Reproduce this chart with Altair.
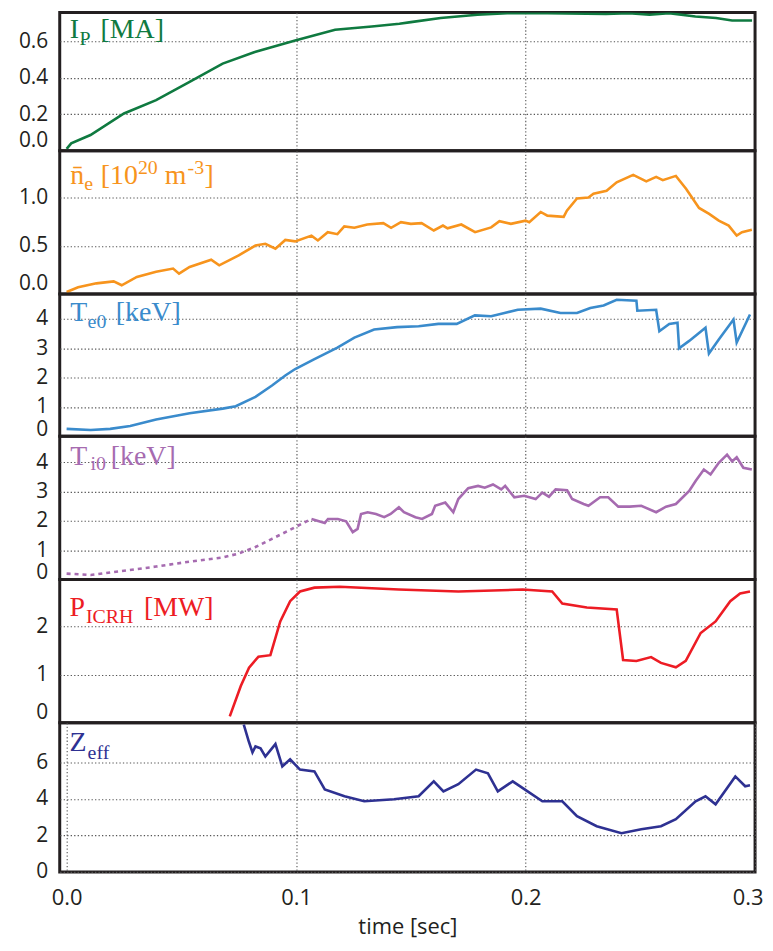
import altair as alt
import pandas as pd

# ---------------- data (time [s], value) ----------------
IP = [(0.0, 0.01), (0.002, 0.04), (0.0104, 0.086), (0.025, 0.204), (0.039, 0.277),
      (0.0536, 0.377), (0.068, 0.477), (0.082, 0.54), (0.0996, 0.604), (0.117, 0.662),
      (0.133, 0.68), (0.145, 0.695), (0.150, 0.704), (0.163, 0.727), (0.179, 0.744),
      (0.192, 0.753), (0.2095, 0.753), (0.235, 0.749), (0.245, 0.753), (0.254, 0.744),
      (0.2625, 0.753), (0.274, 0.735), (0.283, 0.727), (0.290, 0.713), (0.2987, 0.713)]

NE = [(0.0, 0.02), (0.005, 0.07), (0.013, 0.11), (0.0205, 0.13), (0.024, 0.09),
      (0.0306, 0.177), (0.039, 0.23), (0.0464, 0.263), (0.049, 0.21), (0.0536, 0.28),
      (0.063, 0.355), (0.0665, 0.297), (0.075, 0.40), (0.0823, 0.503), (0.0866, 0.52),
      (0.091, 0.47), (0.0953, 0.56), (0.0996, 0.545), (0.1067, 0.605), (0.1095, 0.555),
      (0.1138, 0.64), (0.118, 0.62), (0.121, 0.70), (0.1254, 0.686), (0.131, 0.72),
      (0.138, 0.734), (0.1414, 0.686), (0.1457, 0.744), (0.150, 0.727), (0.1547, 0.734),
      (0.160, 0.658), (0.164, 0.709), (0.166, 0.68), (0.172, 0.72), (0.178, 0.64),
      (0.185, 0.69), (0.1886, 0.755), (0.1936, 0.727), (0.200, 0.76), (0.2016, 0.744),
      (0.2066, 0.85), (0.2095, 0.812), (0.2166, 0.80), (0.218, 0.864), (0.2224, 0.99),
      (0.2274, 1.00), (0.2296, 1.04), (0.2353, 1.07), (0.2397, 1.157), (0.2469, 1.235),
      (0.2526, 1.167), (0.2569, 1.214), (0.2598, 1.18), (0.2655, 1.224), (0.270, 1.088),
      (0.2756, 0.892), (0.280, 0.83), (0.2842, 0.76), (0.2885, 0.709), (0.292, 0.606),
      (0.2943, 0.64), (0.2986, 0.665)]

TE = [(0.0, 0.25), (0.0105, 0.21), (0.019, 0.25), (0.0277, 0.35), (0.039, 0.57),
      (0.0536, 0.78), (0.068, 0.94), (0.0737, 1.02), (0.0823, 1.34), (0.0895, 1.73),
      (0.0953, 2.07), (0.0996, 2.29), (0.108, 2.63), (0.118, 3.02), (0.1254, 3.36),
      (0.134, 3.64), (0.144, 3.72), (0.1534, 3.75), (0.162, 3.83), (0.17, 3.83),
      (0.1779, 4.12), (0.185, 4.09), (0.1908, 4.2), (0.1966, 4.31), (0.2066, 4.35),
      (0.2152, 4.2), (0.2224, 4.2), (0.2282, 4.37), (0.234, 4.46), (0.2397, 4.65),
      (0.2483, 4.62), (0.2487, 4.28), (0.2569, 4.31), (0.2583, 3.58), (0.2626, 3.83),
      (0.2662, 3.87), (0.2669, 3.0), (0.2713, 3.25), (0.2784, 3.7), (0.2799, 2.82),
      (0.2842, 3.30), (0.2906, 3.98), (0.292, 3.19), (0.2978, 4.15)]

TI_EST = [(0.0, 0.2), (0.0105, 0.15), (0.025, 0.3), (0.039, 0.44), (0.0536, 0.61),
          (0.068, 0.75), (0.0751, 0.89), (0.0823, 1.11), (0.0895, 1.39), (0.0967, 1.67),
          (0.1024, 1.9), (0.1067, 2.07)]

TI = [(0.1067, 2.07), (0.1125, 1.93), (0.1139, 2.07), (0.1182, 2.07), (0.1218, 1.99),
      (0.1247, 1.62), (0.1268, 1.73), (0.1283, 2.24), (0.1312, 2.30), (0.1348, 2.24),
      (0.1384, 2.13), (0.1412, 2.24), (0.1448, 2.47), (0.147, 2.30), (0.152, 2.13),
      (0.1549, 2.07), (0.1592, 2.24), (0.1606, 2.52), (0.165, 2.63), (0.1685, 2.30),
      (0.1707, 2.75), (0.175, 3.12), (0.1793, 3.2), (0.1822, 3.14), (0.1858, 3.25),
      (0.1894, 3.08), (0.1911, 3.2), (0.1951, 2.81), (0.1994, 2.86), (0.2044, 2.75),
      (0.2073, 2.97), (0.2102, 2.83), (0.2131, 3.08), (0.2181, 3.05), (0.2203, 2.75),
      (0.2253, 2.58), (0.2274, 2.52), (0.2325, 2.81), (0.236, 2.81), (0.2404, 2.49),
      (0.2454, 2.49), (0.2504, 2.52), (0.2569, 2.30), (0.2612, 2.49), (0.2655, 2.58),
      (0.2713, 3.03), (0.2741, 3.37), (0.2777, 3.76), (0.2806, 3.59), (0.2842, 3.99),
      (0.2878, 4.27), (0.29, 4.04), (0.292, 4.18), (0.2949, 3.82), (0.2986, 3.76)]

PICRH = [(0.0711, 0.13), (0.0759, 0.76), (0.0795, 1.14), (0.0836, 1.37), (0.0888, 1.40),
         (0.0931, 2.1), (0.0974, 2.52), (0.1017, 2.72), (0.108, 2.80), (0.119, 2.82),
         (0.1448, 2.76), (0.1707, 2.72), (0.1987, 2.76), (0.2116, 2.72), (0.216, 2.47),
         (0.2267, 2.39), (0.2397, 2.35), (0.2425, 1.30), (0.2483, 1.28), (0.2547, 1.36),
         (0.259, 1.24), (0.2655, 1.15), (0.2698, 1.28), (0.2763, 1.86), (0.2828, 2.1),
         (0.2892, 2.52), (0.2935, 2.68), (0.2978, 2.72)]

ZEFF = [(0.0772, 8.07), (0.0794, 7.14), (0.081, 6.54), (0.0823, 6.87), (0.0845, 6.77),
        (0.0866, 6.32), (0.091, 7.0), (0.094, 5.78), (0.0974, 6.16), (0.1017, 5.6),
        (0.108, 5.5), (0.1125, 4.52), (0.1211, 4.14), (0.1297, 3.87), (0.1427, 3.98),
        (0.1534, 4.14), (0.16, 4.96), (0.1642, 4.41), (0.1707, 4.8), (0.1784, 5.6),
        (0.1836, 5.4), (0.1879, 4.41), (0.1944, 4.96), (0.2009, 4.41), (0.2073, 3.87),
        (0.216, 3.87), (0.2224, 3.05), (0.231, 2.5), (0.2418, 2.12), (0.2504, 2.34),
        (0.259, 2.5), (0.2655, 2.89), (0.2741, 3.87), (0.2784, 4.14), (0.2828, 3.7),
        (0.2914, 5.23), (0.2957, 4.69), (0.2978, 4.74)]

X_TICKS = [0.0, 0.1, 0.2, 0.3]

# panel labels: (text, x, y, size)
LBL_IP = [("I", 10, 26, 28), ("P", 20, 33, 20), ("[MA]", 41, 26, 28)]
LBL_NE = [("n\u0304", 10.7, 33, 28), ("e", 24.7, 39.7, 20), ("[10", 41.3, 33, 28),
          ("20", 78.6, 23, 20), ("m", 105.5, 33, 28), ("-3", 128.5, 23, 20), ("]", 145.5, 33, 28)]
LBL_TE = [("T", 10.7, 27.3, 28), ("e0", 28, 34.7, 20), ("[keV]", 56.3, 27.3, 28)]
LBL_TI = [("T", 10.7, 29.3, 28), ("i0", 31, 34.3, 20), ("[keV]", 51.3, 29.3, 28)]
LBL_P = [("P", 9.7, 36.3, 28), ("ICRH", 26.3, 43.7, 20), ("[MW]", 84.7, 36.3, 28)]
LBL_Z = [("Z", 9.7, 28, 28), ("eff", 28, 36.3, 20)]

INK = "#231f20"
TICK_FONT = "Open Sans"
FS = 21
W = 699
XDOM = [-0.003, 0.3]
GRID = dict(grid=True, gridDash=[1.3, 2.2], gridColor="#555555", gridWidth=1.1)


def frame(pairs):
    return pd.DataFrame(pairs, columns=["t", "v"])


def x_enc(bottom):
    if bottom:
        ax = alt.Axis(values=X_TICKS, format=".1f", domain=False, ticks=False,
                      labelFont=TICK_FONT, labelFontSize=FS + 1, labelColor=INK,
                      labelPadding=16, labelFlush=True, labelFlushOffset=8,
                      labelOverlap=False,
                      title="time [sec]", titleFont=TICK_FONT, titleFontSize=FS + 1,
                      titleFontWeight="normal", titleColor=INK, titlePadding=8, **GRID)
    else:
        ax = alt.Axis(values=[0.1, 0.2], labels=False, domain=False, ticks=False,
                      title=None, minExtent=0, maxExtent=0, **GRID)
    return alt.X("t:Q", scale=alt.Scale(domain=XDOM, nice=False, zero=False), axis=ax)


def y_enc(domain, ticks, fmt, flush, flush_off):
    ax = alt.Axis(values=ticks, format=fmt, domain=False, ticks=False,
                  labelFont=TICK_FONT, labelFontSize=FS, labelColor=INK,
                  labelPadding=12, labelFlush=flush, labelFlushOffset=flush_off,
                  labelOverlap=False, minExtent=50, maxExtent=50, title=None, **GRID)
    return alt.Y("v:Q", scale=alt.Scale(domain=domain, nice=False, zero=False), axis=ax)


def labels(items, color):
    one = pd.DataFrame({"k": [0]})
    out = []
    for txt, x, y, size in items:
        out.append(alt.Chart(one).mark_text(text=txt, align="left", baseline="alphabetic",
                                            font="Liberation Serif", fontSize=size,
                                            color=color)
                   .encode(x=alt.value(x), y=alt.value(y)))
    return out


def panel(series, color, domain, ticks, fmt, height, lbl, flush=True, bottom=False,
          flush_off=0):
    layers = []
    for pairs, dash in series:
        kw = dict(color=color, strokeWidth=2.6, clip=True)
        if dash:
            kw["strokeDash"] = [4, 4]
        layers.append(alt.Chart(frame(pairs)).mark_line(**kw).encode(
            x=x_enc(bottom), y=y_enc(domain, ticks, fmt, flush, flush_off)))
    layers += labels(lbl, color)
    return alt.layer(*layers).properties(width=W, height=height)


p1 = panel([(IP, False)], "#0f7a40", [0, 0.757], [0, 0.2, 0.4, 0.6], ".1f", 139, LBL_IP)
p2 = panel([(NE, False)], "#f7941d", [0, 1.485], [0, 0.5, 1.0], ".1f", 144, LBL_NE)
p3 = panel([(TE, False)], "#3a8bcc", [0, 4.85], [0, 1, 2, 3, 4], "d", 143, LBL_TE,
           flush_off=3)
p4 = panel([(TI_EST, True), (TI, False)], "#a66bb0", [0, 4.9], [0, 1, 2, 3, 4], "d", 144,
           LBL_TI, flush_off=3)
p5 = panel([(PICRH, False)], "#ed1c24", [0, 2.97], [0, 1, 2], "d", 144, LBL_P)
p6 = panel([(ZEFF, False)], "#2e3192", [0, 8.17], [0, 2, 4, 6], "d", 150, LBL_Z,
           flush=False, bottom=True)

chart = (alt.vconcat(p1, p2, p3, p4, p5, p6, spacing=0, bounds="flush")
         .properties(padding={"left": 0, "top": 0, "right": 0, "bottom": 0},
                     background="white")
         .configure_view(stroke=INK, strokeWidth=3))

chart.save("out.html", embed_options={"renderer": "svg", "actions": False})
